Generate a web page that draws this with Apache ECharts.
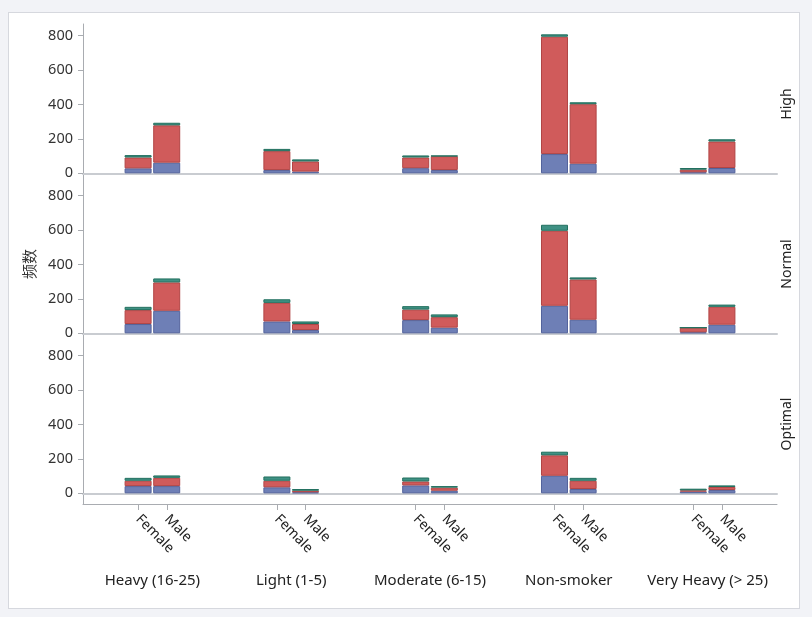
<!DOCTYPE html>
<html>
<head>
	<meta charset="utf-8"/>
	<title>频数 - BP / Smoking / Sex</title>
	<script src="https://cdn.jsdelivr.net/npm/echarts@6/dist/echarts.min.js"></script>
	<style>
		body { margin:0; background:#f2f3f7; }
		#frame { position:absolute; left:8px; top:12px; width:790px; height:595px; background:#fff; border:1px solid #d6d8de; }
		#main { position:absolute; left:0; top:0; width:812px; height:617px; }
	</style>
</head>
<body>
<div id="frame"></div>
<div id="main"></div>
<script>
	// categories
	var groups = ['Heavy (16-25)', 'Light (1-5)', 'Moderate (6-15)', 'Non-smoker', 'Very Heavy (> 25)'];
	var sexes = ['Female', 'Male'];
	var rowNames = ['High', 'Normal', 'Optimal'];
	var weightNames = ['Normal', 'Overweight', 'Underweight'];
	var yTicks = [0, 200, 400, 600, 800];

	// counts per group, one array per weight status: [Normal, Overweight, Underweight]
	var highFemale = [[29, 19, 30, 112, 6], [63, 110, 62, 682, 15], [14, 13, 12, 14, 10]];
	var highMale = [[62, 10, 19, 56, 31], [217, 59, 81, 346, 154], [15, 12, 2, 11, 13]];
	var normalFemale = [[54, 69, 77, 160, 6], [81, 108, 61, 436, 27], [19, 21, 20, 35, 0]];
	var normalMale = [[131, 19, 33, 79, 50], [165, 35, 61, 234, 104], [23, 15, 16, 12, 13]];
	var optimalFemale = [[42, 35, 46, 102, 10], [31, 38, 23, 119, 7], [17, 25, 23, 21, 10]];
	var optimalMale = [[42, 6, 15, 25, 19], [48, 9, 18, 48, 18], [14, 10, 9, 17, 9]];

	var rowData = [[highFemale, highMale], [normalFemale, normalMale], [optimalFemale, optimalMale]];

	var fills = ['#6e7fb6', '#d05b5b', '#3f9184'];
	var borders = ['#53639c', '#b14545', '#22705f'];
	var font = '"Noto Sans", "Noto Sans CJK SC", sans-serif';
	var axisGray = '#a9acb1';

	// layout
	var L = 83, R = 35, rowH = 160;
	var rowTop = [24, 184, 344];
	var colW = (812 - L - R) / groups.length;
	var pair = 57.4;

	var grid = [], xAxis = [], yAxis = [], series = [];

	for (var r = 0; r < 3; r++) {
		grid.push({left: L, right: R, top: rowTop[r], height: rowH});
		xAxis.push({
			type: 'category', gridIndex: r, data: groups,
			axisLine: {onZero: true, lineStyle: {color: '#c9ccd1', width: 2}},
			axisTick: {show: false}, axisLabel: {show: false}
		});
		yAxis.push({
			type: 'value', gridIndex: r, min: -62, max: 868,
			name: r === 1 ? '频数' : '', nameLocation: 'middle', nameGap: 46,
			nameTextStyle: {fontFamily: '"Noto Sans CJK SC", sans-serif', fontSize: 15, color: '#333'},
			axisLine: {show: true, lineStyle: {color: axisGray}},
			axisTick: {show: true, length: 5, customValues: yTicks, lineStyle: {color: axisGray}},
			axisLabel: {customValues: yTicks, fontSize: 14.5, color: '#333', fontFamily: font, margin: 10},
			splitLine: {show: false}
		});
		yAxis.push({
			type: 'value', gridIndex: r, position: 'right', min: -62, max: 868,
			name: rowNames[r], nameLocation: 'middle', nameRotate: 90, nameGap: 3,
			nameTextStyle: {fontSize: 14, color: '#222', fontFamily: font},
			axisLine: {show: false}, axisTick: {show: false}, axisLabel: {show: false}, splitLine: {show: false}
		});
	}

	// bottom axis line with group labels
	xAxis.push({
		type: 'category', gridIndex: 2, data: groups, position: 'bottom',
		axisLine: {onZero: false, lineStyle: {color: axisGray}},
		axisTick: {show: false},
		axisLabel: {interval: 0, hideOverlap: false, margin: 69, fontSize: 15, color: '#222', fontFamily: font}
	});

	// Female / Male ticks under each group
	for (var c = 0; c < groups.length; c++) {
		var center = L + colW * (c + 0.5);
		grid.push({left: center - pair / 2, width: pair, top: rowTop[2], height: rowH});
		xAxis.push({
			type: 'category', gridIndex: 3 + c, data: sexes,
			axisLine: {show: false},
			axisTick: {show: true, alignWithLabel: true, length: 6, lineStyle: {color: axisGray}},
			axisLabel: {interval: 0, rotate: -45, margin: 13, fontSize: 14, color: '#222', fontFamily: font}
		});
		yAxis.push({type: 'value', gridIndex: 3 + c, min: 0, max: 1, show: false});
	}

	for (var r = 0; r < 3; r++) {
		for (var s = 0; s < 2; s++) {
			for (var w = 0; w < 3; w++) {
				series.push({
					type: 'bar',
					name: weightNames[w],
					xAxisIndex: r, yAxisIndex: r * 2,
					stack: 'r' + r + sexes[s],
					barWidth: 27, barGap: '6%',
					data: rowData[r][s][w],
					itemStyle: {color: fills[w], borderColor: borders[w], borderWidth: 1},
					emphasis: {disabled: true}
				});
			}
		}
	}

	var myChart = echarts.init(document.getElementById('main'));
	myChart.setOption({
		animation: false,
		backgroundColor: 'transparent',
		textStyle: {fontFamily: font},
		grid: grid,
		xAxis: xAxis,
		yAxis: yAxis,
		series: series
	});
</script>
</body>
</html>
